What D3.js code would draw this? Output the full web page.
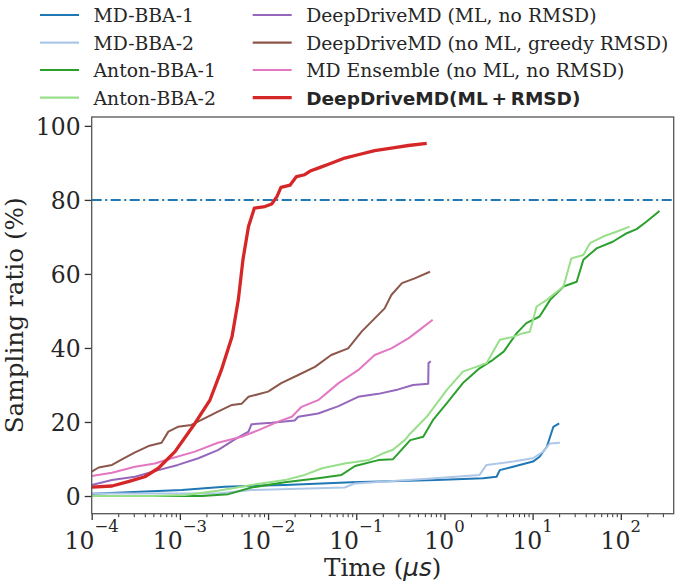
<!DOCTYPE html>
<html>
<head>
<meta charset="utf-8">
<script src="https://cdn.jsdelivr.net/npm/d3@7"></script>
<style>
  html, body { margin: 0; padding: 0; background: #fff; }
  svg text { font-family: "DejaVu Serif", serif; fill: #262626; }
</style>
</head>
<body>
<svg id="chart" width="675" height="582"></svg>
<script>
// time in microseconds, sampling ratio in percent
const mdBba1T = [1e-4, 1.05e-3, 3.2e-3, 1.55e-2, 8.9e-2, 0.186, 0.81, 2.75, 3.9, 4.25, 6.0, 10.1, 12, 14.5, 17.2, 20];
const mdBba1V = [0.6, 1.6, 2.5, 3.0, 3.7, 3.9, 4.3, 4.8, 5.2, 7.0, 7.9, 9.3, 10.6, 13.3, 18.7, 19.6];

const mdBba2T = [1e-4, 2.7e-3, 6.5e-3, 7.4e-2, 9.7e-2, 0.78, 2.5, 3.0, 6.0, 10.1, 13.2, 15.7, 20.4];
const mdBba2V = [0.7, 0.7, 1.6, 2.3, 3.4, 4.8, 5.7, 8.4, 9.3, 10.2, 12, 14.2, 14.4];

const anton1T = [1e-4, 1.78e-3, 3.55e-3, 6.5e-3, 1.55e-2, 3.7e-2, 6.8e-2, 9.7e-2, 0.178, 0.26, 0.41, 0.575, 0.74, 1.06, 1.62, 2.5, 3.55, 4.7, 6.6, 8.5, 12, 15.8, 22.4, 31.6, 37.6, 53, 81, 117, 151, 195, 275];
const anton1V = [0, 0, 0.5, 2.3, 3.7, 4.8, 5.7, 8.1, 9.7, 9.9, 15.1, 16, 20.5, 25, 30.5, 34.5, 36.8, 39, 44, 46.7, 48.5, 53, 56.6, 57.9, 63.8, 66.9, 68.7, 71, 72.1, 74.1, 77];

const anton2T = [1e-4, 4.8e-4, 1.15e-3, 2.7e-3, 6.5e-3, 1.55e-2, 2.6e-2, 4.1e-2, 7.4e-2, 0.138, 0.21, 0.26, 0.355, 0.41, 0.63, 1.06, 1.62, 3.0, 4.25, 6.0, 7.8, 9.3, 11.1, 14.5, 22.4, 27.5, 37.6, 44.7, 63, 89, 126];
const anton2V = [0, 0, 0.27, 1.4, 3.0, 4.3, 5.7, 7.5, 8.8, 9.7, 11.7, 12.5, 15.1, 16.9, 21.4, 28.6, 33.6, 35.9, 42.2, 43, 44, 44.4, 51.2, 53, 56.6, 64.2, 65.1, 68.3, 70.1, 71.4, 72.8];

const mlNoRmsdT = [1e-4, 1.7e-4, 3.1e-4, 5.7e-4, 9.5e-4, 1.62e-3, 2.7e-3, 4.2e-3, 6.0e-3, 6.5e-3, 1.1e-2, 2.0e-2, 2.2e-2, 3.7e-2, 6.3e-2, 0.105, 0.178, 0.3, 0.44, 0.655, 0.66, 0.70];
const mlNoRmsdV = [3.0, 4.3, 5.2, 7.0, 8.4, 10.2, 12.4, 15.3, 17.4, 19.4, 19.8, 20.4, 21.4, 22.3, 24.3, 26.8, 27.6, 28.8, 30, 30.3, 35.9, 36.4];

const greedyT = [1e-4, 1.2e-4, 1.7e-4, 2.2e-4, 3.1e-4, 4.4e-4, 6.2e-4, 7.4e-4, 9.5e-4, 1.35e-3, 1.9e-3, 2.7e-3, 3.9e-3, 5.0e-3, 6.0e-3, 1e-2, 1.41e-2, 2.2e-2, 3.4e-2, 5.2e-2, 8.1e-2, 0.115, 0.162, 0.21, 0.25, 0.33, 0.46, 0.685];
const greedyV = [6.6, 7.7, 8.4, 9.9, 11.8, 13.5, 14.4, 17.4, 18.7, 19.2, 21, 22.8, 24.6, 24.9, 26.8, 28.2, 30.5, 32.7, 34.9, 38.1, 39.9, 44.4, 48, 50.7, 54.3, 57.5, 58.8, 60.6];

const ensembleT = [1e-4, 1.7e-4, 3.1e-4, 5.2e-4, 8.1e-4, 1.48e-3, 2.7e-3, 5.0e-3, 7.8e-3, 1.3e-2, 1.86e-2, 2.4e-2, 3.7e-2, 6.3e-2, 0.105, 0.162, 0.25, 0.39, 0.55, 0.735];
const ensembleV = [5.4, 6.3, 7.9, 8.8, 10.2, 12, 14.4, 16, 17.8, 20.1, 21.4, 24.1, 25.9, 30.5, 34, 38.1, 39.9, 42.6, 45.3, 47.6];

const ddmdT = [1e-4, 1.7e-4, 2.6e-4, 4.0e-4, 5.7e-4, 8.8e-4, 1.48e-3, 2.2e-3, 2.95e-3, 3.9e-3, 4.6e-3, 5.2e-3, 6.0e-3, 7.0e-3, 9.2e-3, 1.1e-2, 1.26e-2, 1.4e-2, 1.78e-2, 2.1e-2, 2.6e-2, 3.0e-2, 3.7e-2, 5.2e-2, 7.4e-2, 0.105, 0.162, 0.25, 0.39, 0.63];
const ddmdV = [2.4, 2.7, 3.9, 5.2, 7.5, 12, 19.6, 26, 34, 43, 53, 64, 72.8, 77.8, 78.2, 78.9, 80.9, 83.4, 84, 86.3, 86.8, 87.8, 88.6, 89.9, 91.3, 92.2, 93.3, 94, 94.7, 95.3];

const seriesNames = ["MD-BBA-1", "MD-BBA-2", "Anton-BBA-1", "Anton-BBA-2",
  "DeepDriveMD (ML, no RMSD)", "DeepDriveMD (no ML, greedy RMSD)", "MD Ensemble (no ML, no RMSD)", "DeepDriveMD(ML\u2009+\u2009RMSD)"];
const seriesColors = ["#1f77b4", "#aec7e8", "#2ca02c", "#98df8a", "#9467bd", "#8c564b", "#e377c2", "#d62728"];
const seriesT = [mdBba1T, mdBba2T, anton1T, anton2T, mlNoRmsdT, greedyT, ensembleT, ddmdT];
const seriesV = [mdBba1V, mdBba2V, anton1V, anton2V, mlNoRmsdV, greedyV, ensembleV, ddmdV];

const xTickExps = [-4, -3, -2, -1, 0, 1, 2];
const yTicks = [0, 20, 40, 60, 80, 100];
const target = 80;

const margin = { top: 117, right: 1.3, bottom: 68.3, left: 91.7 };
const width = 675;
const height = 582;

const svg = d3.select("#chart");

const x = d3.scaleLog()
  .domain([1e-4, Math.pow(10, 2.6)])
  .range([margin.left, width - margin.right]);

const y = d3.scaleLinear()
  .domain([-4.78, 102.4])
  .range([height - margin.bottom, margin.top]);

const series = seriesNames.map((name, i) => ({
  name,
  color: seriesColors[i],
  bold: i === seriesNames.length - 1,
  points: seriesT[i].map((t, j) => ({ t, v: seriesV[i][j] }))
}));

const plot = svg.append("g");

// clip to axes
svg.append("clipPath").attr("id", "clip")
  .append("rect")
  .attr("x", margin.left).attr("y", margin.top)
  .attr("width", width - margin.right - margin.left)
  .attr("height", height - margin.bottom - margin.top);

const line = d3.line()
  .x(d => x(d.t))
  .y(d => y(d.v));

plot.append("line")
  .attr("clip-path", "url(#clip)")
  .attr("x1", margin.left).attr("x2", width - margin.right)
  .attr("y1", y(target)).attr("y2", y(target))
  .attr("stroke", "#1f77b4")
  .attr("stroke-width", 2)
  .attr("stroke-dasharray", "10,3.5,2,3.5");

plot.append("g")
  .attr("clip-path", "url(#clip)")
  .selectAll("path")
  .data(series)
  .join("path")
  .attr("fill", "none")
  .attr("stroke", d => d.color)
  .attr("stroke-width", d => d.bold ? 3.3 : 2)
  .attr("stroke-linejoin", "round")
  .attr("d", d => line(d.points));

// axes
const minorTicks = [];
for (let e = -4; e <= 2; e++) {
  for (let k = 2; k <= 9; k++) {
    const v = k * Math.pow(10, e);
    if (v <= x.domain()[1]) minorTicks.push(v);
  }
}

const xAxisG = svg.append("g")
  .attr("transform", `translate(0,${height - margin.bottom})`);

xAxisG.append("g")
  .call(d3.axisBottom(x).tickValues(minorTicks).tickSize(3.5).tickFormat(""))
  .call(g => g.select(".domain").remove())
  .call(g => g.selectAll(".tick line").attr("stroke", "#333").attr("stroke-width", 1));

xAxisG.append("g")
  .call(d3.axisBottom(x).tickValues(xTickExps.map(e => Math.pow(10, e))).tickSize(6.3).tickFormat(""))
  .call(g => g.select(".domain").remove())
  .call(g => g.selectAll(".tick line").attr("stroke", "#333").attr("stroke-width", 1.3));

xAxisG.append("g")
  .selectAll("text")
  .data(xTickExps)
  .join("text")
  .attr("x", d => x(Math.pow(10, d)))
  .attr("y", 35.3)
  .attr("text-anchor", "middle")
  .style("font-size", "23.5px")
  .call(t => {
    t.append("tspan").text("10");
    t.append("tspan").attr("dy", -17).style("font-size", "16.5px").text(d => d < 0 ? "\u2212" + (-d) : String(d));
  });

const yAxisG = svg.append("g")
  .attr("transform", `translate(${margin.left},0)`);

yAxisG.call(d3.axisLeft(y).tickValues(yTicks).tickSize(7).tickPadding(4))
  .call(g => g.select(".domain").remove())
  .call(g => g.selectAll(".tick line").attr("stroke", "#333").attr("stroke-width", 1.3))
  .call(g => g.selectAll(".tick text")
    .attr("dy", "0.36em")
    .style("font-size", "23.5px")
    .style("font-family", "DejaVu Serif")
    .attr("fill", "#262626"));

// spines
svg.append("rect")
  .attr("x", margin.left).attr("y", margin.top)
  .attr("width", width - margin.right - margin.left)
  .attr("height", height - margin.bottom - margin.top)
  .attr("fill", "none")
  .attr("stroke", "#555")
  .attr("stroke-width", 1.3);

// axis labels
svg.append("text")
  .attr("x", (margin.left + width - margin.right) / 2)
  .attr("y", 576)
  .attr("text-anchor", "middle")
  .style("font-size", "24.5px")
  .call(t => {
    t.append("tspan").text("Time (");
    t.append("tspan").style("font-family", "DejaVu Sans").style("font-style", "italic").text("\u03bcs");
    t.append("tspan").text(")");
  });

svg.append("text")
  .attr("transform", `translate(23,${(margin.top + height - margin.bottom) / 2}) rotate(-90)`)
  .attr("text-anchor", "middle")
  .style("font-size", "24.7px")
  .text("Sampling ratio (%)");

// legend
const legendRows = [15, 42.7, 70, 97.7];
const legendCols = [40, 252.7];

const legend = svg.append("g")
  .selectAll("g")
  .data(series)
  .join("g")
  .attr("transform", (d, i) => `translate(${legendCols[Math.floor(i / 4)]},${legendRows[i % 4]})`);

legend.append("line")
  .attr("x1", 0).attr("x2", 39)
  .attr("stroke", d => d.color)
  .attr("stroke-width", d => d.bold ? 3.3 : 2.2);

legend.append("text")
  .attr("x", 53.5)
  .attr("y", 7.2)
  .style("font-size", d => d.bold ? "18.5px" : "18.8px")
  .style("font-family", d => d.bold ? "DejaVu Sans" : "DejaVu Serif")
  .style("font-weight", d => d.bold ? "bold" : "normal")
  .text(d => d.name);
</script>
</body>
</html>
